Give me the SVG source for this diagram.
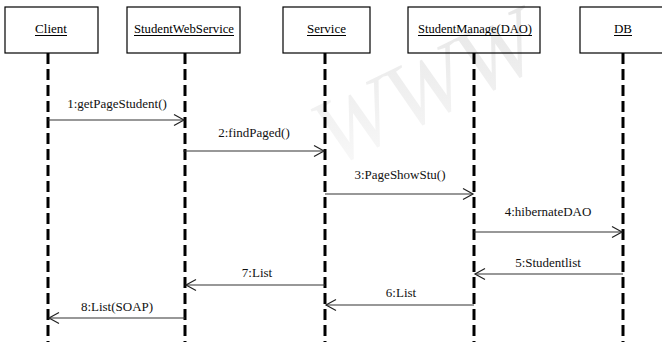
<svg xmlns="http://www.w3.org/2000/svg" width="662" height="342" viewBox="0 0 662 342">
  <defs>
    <style>
      .box { fill: none; stroke: #000; stroke-width: 1.2; }
      .name { font-size: 13px; fill: #000; text-anchor: middle; }
      .uline { stroke: #000; stroke-width: 1; }
      .life { stroke: #000; stroke-width: 3; stroke-dasharray: 11 5; fill: none; }
      .msg { stroke: #333; stroke-width: 1.2; fill: none; marker-end: url(#open); }
      .lbl { font-size: 13px; fill: #111; text-anchor: middle; }
      .mark { font-style: italic; font-size: 95px; fill: url(#fade); }
    </style>
    <marker id="open" markerUnits="userSpaceOnUse" markerWidth="14" markerHeight="14" viewBox="0 0 14 14" refX="11" refY="7" orient="auto">
      <path d="M1,1.5 L11,7 L1,12.5" fill="none" stroke="#222" stroke-width="1.2"/>
    </marker>
    <linearGradient id="fade" x1="0" y1="1" x2="1" y2="0">
      <stop offset="0" stop-color="#fafafa"/>
      <stop offset="1" stop-color="#e4e4e4"/>
    </linearGradient>
  </defs>

  <rect width="662" height="342" fill="#fff"/>

  <g font-family="'Liberation Serif', 'DejaVu Serif', serif">
    <!-- background watermark -->
    <text class="mark" transform="translate(332,168) rotate(-26)">WWW</text>

    <!-- lifelines -->
    <g id="lifelines">
      <line class="life" x1="48" y1="53" x2="48" y2="342"/>
      <line class="life" x1="185" y1="53" x2="185" y2="342"/>
      <line class="life" x1="325" y1="53" x2="325" y2="342"/>
      <line class="life" x1="474" y1="53" x2="474" y2="342"/>
      <line class="life" x1="623" y1="53" x2="623" y2="342"/>
    </g>

    <g id="client">
      <rect class="box" x="5" y="7" width="93" height="46"/>
      <text class="name" x="51" y="33">Client</text>
      <line class="uline" x1="35" y1="35.5" x2="67" y2="35.5"/>
    </g>
    <g id="student-web-service">
      <rect class="box" x="127" y="7" width="113" height="46"/>
      <text class="name" x="184" y="33" textLength="100" lengthAdjust="spacingAndGlyphs">StudentWebService</text>
      <line class="uline" x1="134" y1="35.5" x2="234" y2="35.5"/>
    </g>
    <g id="service">
      <rect class="box" x="283" y="7" width="87" height="46"/>
      <text class="name" x="326.5" y="33" textLength="39" lengthAdjust="spacingAndGlyphs">Service</text>
      <line class="uline" x1="307" y1="35.5" x2="346" y2="35.5"/>
    </g>
    <g id="student-manage-dao">
      <rect class="box" x="408" y="7" width="132" height="46"/>
      <text class="name" x="475" y="33" textLength="114" lengthAdjust="spacingAndGlyphs">StudentManage(DAO)</text>
      <line class="uline" x1="418" y1="35.5" x2="532" y2="35.5"/>
    </g>
    <g id="db">
      <rect class="box" x="580" y="7" width="86" height="46"/>
      <text class="name" x="623" y="33">DB</text>
      <line class="uline" x1="614" y1="35.5" x2="632" y2="35.5"/>
    </g>

    <!-- messages -->
    <g id="connectors">
      <line class="msg" x1="48" y1="120" x2="184" y2="120"/>
      <text class="lbl" x="117" y="108">1:getPageStudent()</text>

      <line class="msg" x1="183" y1="151" x2="324" y2="151"/>
      <text class="lbl" x="254" y="137">2:findPaged()</text>

      <line class="msg" x1="325" y1="194" x2="473" y2="194"/>
      <text class="lbl" x="400" y="179">3:PageShowStu()</text>

      <line class="msg" x1="474" y1="232" x2="622" y2="232"/>
      <text class="lbl" x="548" y="216">4:hibernateDAO</text>

      <line class="msg" x1="623" y1="274" x2="475" y2="274"/>
      <text class="lbl" x="548" y="267">5:Studentlist</text>

      <line class="msg" x1="474" y1="305" x2="326" y2="305"/>
      <text class="lbl" x="401" y="297">6:List</text>

      <line class="msg" x1="325" y1="285" x2="186" y2="285"/>
      <text class="lbl" x="257" y="277">7:List</text>

      <line class="msg" x1="185" y1="318" x2="49" y2="318"/>
      <text class="lbl" x="117" y="311">8:List(SOAP)</text>
    </g>
  </g>
</svg>
